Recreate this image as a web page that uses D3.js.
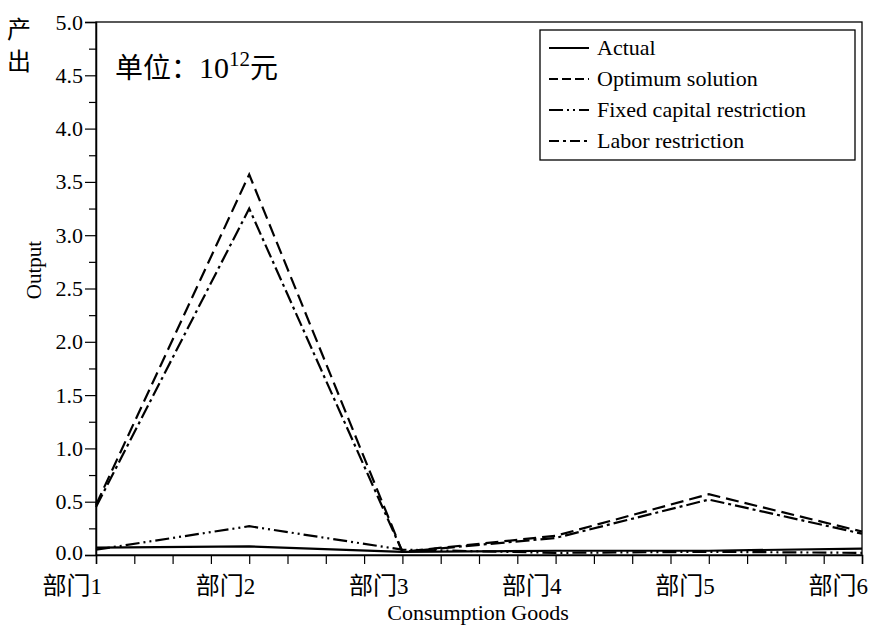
<!DOCTYPE html>
<html><head><meta charset="utf-8">
<script src="https://cdn.jsdelivr.net/npm/d3@7"></script>
<style>body{margin:0;background:#fff}svg{display:block}</style>
</head><body>
<svg id="c" width="872" height="628"></svg>
<script>
const categories = ["部门1","部门2","部门3","部门4","部门5","部门6"];
const catNums = ["1","2","3","4","5","6"];
const actual = [0.07, 0.08, 0.03, 0.04, 0.04, 0.06];
const optimum = [0.47, 3.57, 0.03, 0.18, 0.57, 0.22];
const fixedCapital = [0.05, 0.27, 0.05, 0.02, 0.03, 0.02];
const labor = [0.45, 3.25, 0.03, 0.16, 0.52, 0.20];
const yTicks = [0,0.5,1,1.5,2,2.5,3,3.5,4,4.5,5];
const yTickLabels = ["0.0","0.5","1.0","1.5","2.0","2.5","3.0","3.5","4.0","4.5","5.0"];
const seriesNames = ["Actual","Optimum solution","Fixed capital restriction","Labor restriction"];

const svg = d3.select("#c");
const W = 872, H = 628;
const m = {l:96, r:10, t:22, b:73};
const serif = "'Liberation Serif','Times New Roman',serif";
const cjk = "'Noto Sans CJK SC',sans-serif";

const x = d3.scaleLinear().domain([0,5]).range([m.l, W-m.r]);
const y = d3.scaleLinear().domain([0,5]).range([H-m.b, m.t]);

// frame
svg.append("rect").attr("x",m.l).attr("y",m.t).attr("width",W-m.r-m.l).attr("height",H-m.b-m.t)
  .attr("fill","none").attr("stroke","#000").attr("stroke-width",1.3);

// y axis
const yMinor = d3.range(0,5.001,0.25).filter(v=>Math.abs(v*2-Math.round(v*2))>0.01);
const yAxis = d3.axisLeft(y).tickValues(yTicks).tickSize(11).tickPadding(2).tickFormat((d,i)=>yTickLabels[i]);
const ga = svg.append("g").attr("transform",`translate(${m.l},0)`).call(yAxis);
ga.select(".domain").attr("stroke-width",1.5);
ga.selectAll(".tick line").attr("stroke-width",1.2);
ga.selectAll(".tick text").attr("font-family",serif).attr("font-size",22).attr("fill","#000");
ga.selectAll(".tick text").filter((d)=>d===0).attr("dy","0.2em");
const gam = svg.append("g").attr("transform",`translate(${m.l},0)`).call(d3.axisLeft(y).tickValues(yMinor).tickSize(7).tickFormat(""));
gam.select(".domain").remove();
gam.selectAll(".tick line").attr("stroke-width",1.2);

// x axis
const xAll = d3.range(0,5.001,0.25);
const gx = svg.append("g").attr("transform",`translate(0,${H-m.b})`).call(d3.axisBottom(x).tickValues(xAll).tickSize(9).tickFormat(""));
gx.select(".domain").attr("stroke-width",1.5);
gx.selectAll(".tick line").attr("stroke-width",1.2);
// x labels
const xl = svg.append("g");
categories.forEach((c,i)=>{
  const t = xl.append("text").attr("x",x(i)+6).attr("y",H-m.b+39).attr("text-anchor","end").attr("fill","#000");
  t.append("tspan").attr("font-family",cjk).attr("font-size",24).text(c.replace(catNums[i],""));
  t.append("tspan").attr("font-family",serif).attr("font-size",23).text(catNums[i]);
});

// axis titles
svg.append("text").attr("x",478).attr("y",620).attr("text-anchor","middle")
  .attr("font-family",serif).attr("font-size",22).text("Consumption Goods");
svg.append("text").attr("transform","translate(41,270) rotate(-90)").attr("text-anchor","middle")
  .attr("font-family",serif).attr("font-size",21).text("Output");
svg.append("text").attr("x",7).attr("y",38).attr("font-family",cjk).attr("font-size",24).text("产");
svg.append("text").attr("x",7).attr("y",70).attr("font-family",cjk).attr("font-size",24).text("出");

// unit text
const ut = svg.append("text").attr("x",115).attr("y",78).attr("fill","#000");
ut.append("tspan").attr("font-family",cjk).attr("font-size",28).text("单位：");
ut.append("tspan").attr("font-family",serif).attr("font-size",30).text("10");
ut.append("tspan").attr("font-family",serif).attr("font-size",21).attr("dy",-12).text("12");
ut.append("tspan").attr("font-family",cjk).attr("font-size",28).attr("dy",12).text("元");

// lines
const dashes = [null, "13,6", "14,4,2,4,2,4", "14,4,3,4"];
const data = [actual, optimum, fixedCapital, labor];
const line = d3.line().x((d,i)=>x(i)).y(d=>y(d));
data.forEach((s,k)=>{
  svg.append("path").datum(s).attr("d",line).attr("fill","none").attr("stroke","#000")
    .attr("stroke-width",2.2).attr("stroke-dasharray",dashes[k]);
});

// legend
const legendDashes = [null, "9,4", "14,4,2,4,2,4", "10,4,3,4"];
const lg = svg.append("g");
lg.append("rect").attr("x",540).attr("y",30).attr("width",315).attr("height",130)
  .attr("fill","#fff").attr("stroke","#000").attr("stroke-width",1.3);
seriesNames.forEach((n,i)=>{
  const yy = 48 + i*31;
  lg.append("line").attr("x1",549).attr("x2",589).attr("y1",yy).attr("y2",yy)
    .attr("stroke","#000").attr("stroke-width",1.8).attr("stroke-dasharray",legendDashes[i]);
  lg.append("text").attr("x",597).attr("y",yy+7).attr("font-family",serif).attr("font-size",22).text(n);
});
</script>
</body></html>
